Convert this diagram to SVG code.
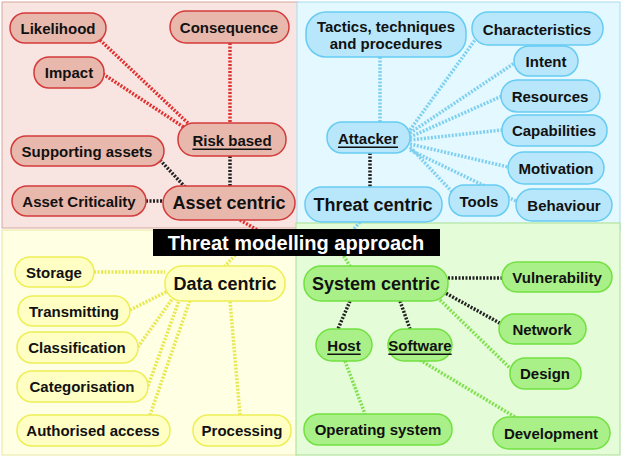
<svg xmlns="http://www.w3.org/2000/svg" width="624" height="459" viewBox="0 0 624 459">
<style>
text{font-family:"Liberation Sans",Arial,sans-serif;font-weight:bold;font-size:15px;text-anchor:middle;dominant-baseline:central;fill:#111}
.big{font-size:18px}
.r{fill:#e8b8ac;stroke:#d43a3a;stroke-width:1.5}
.b{fill:#b8e6fa;stroke:#66ccf2;stroke-width:1.5}
.y{fill:#ffffc4;stroke:#eeee55;stroke-width:1.5}
.g{fill:#aaf088;stroke:#72e040;stroke-width:1.5}
.c path{fill:none;stroke-width:3.5;stroke-dasharray:2 1.5}
.cr{stroke:#e03030}.cb{stroke:#7fd0f0}.cy{stroke:#e8e850}.cg{stroke:#80e050}.ck{stroke:#222}
</style>
<rect x="2" y="2" width="296" height="226" fill="#f8e4e0" stroke="#d8a8a0"/>
<rect x="297" y="2" width="323" height="228" fill="#e4f8ff" stroke="#a8dcf0"/>
<rect x="2" y="230" width="296" height="225" fill="#ffffe4" stroke="#e8e8a0"/>
<rect x="296" y="223" width="324" height="232" fill="#e4fcd8" stroke="#a8e090"/>
<g class="c">
<path class="cr" d="M100 40L190 125M100 72L185 128M230 43V123M240 220L268 236"/>
<path class="ck" d="M230 156V186M160 160L185 187M146 201H163M370 153V187M448 278H502M440 290L505 326M350 301L338 329M400 301L410 329"/>
<path class="cb" d="M380 57V122M410 130L475 40M410 133L516 62M410 137L502 96M410 140L502 130M410 144L508 167M410 147L455 195M410 150L518 202M360 222L348 236"/>
<path class="cy" d="M94 272H165M130 310L170 290M138 347L175 295M148 386L180 298M150 415L190 300M240 415L230 301M240 250L225 266"/>
<path class="cg" d="M440 300L512 370M420 360L520 420M345 361L365 414M340 250L350 266"/>
</g>
<g id="likelihood"><rect class="r" x="10" y="13" width="96" height="30" rx="15"/><text x="58" y="28">Likelihood</text></g>
<g id="consequence"><rect class="r" x="170" y="11" width="119" height="32" rx="16"/><text x="229" y="27">Consequence</text></g>
<g id="impact"><rect class="r" x="34" y="57" width="70" height="31" rx="15"/><text x="69" y="72">Impact</text></g>
<g id="risk"><rect class="r" x="178" y="123" width="108" height="33" rx="16"/><text x="232" y="140" text-decoration="underline">Risk based</text></g>
<g id="supporting"><rect class="r" x="11" y="136" width="153" height="30" rx="15"/><text x="87" y="151">Supporting assets</text></g>
<g id="criticality"><rect class="r" x="12" y="186" width="134" height="30" rx="15"/><text x="79" y="201">Asset Criticality</text></g>
<g id="asset"><rect class="r" x="163" y="186" width="132" height="34" rx="17"/><text class="big" x="229" y="203">Asset centric</text></g>
<g id="threat"><rect class="b" x="305" y="187" width="137" height="35" rx="17"/><text class="big" x="373" y="205">Threat centric</text></g>
<g id="ttp"><rect class="b" x="306" y="12" width="160" height="45" rx="20"/><text x="386" y="26">Tactics, techniques</text><text x="386" y="43">and procedures</text></g>
<g id="characteristics"><rect class="b" x="472" y="12" width="131" height="33" rx="16"/><text x="537" y="29">Characteristics</text></g>
<g id="intent"><rect class="b" x="514" y="46" width="64" height="30" rx="15"/><text x="546" y="61">Intent</text></g>
<g id="resources"><rect class="b" x="501" y="80" width="99" height="32" rx="16"/><text x="550" y="96">Resources</text></g>
<g id="attacker"><rect class="b" x="327" y="122" width="83" height="31" rx="15"/><text x="368" y="138" text-decoration="underline">Attacker</text></g>
<g id="capabilities"><rect class="b" x="502" y="115" width="105" height="31" rx="15"/><text x="554" y="130">Capabilities</text></g>
<g id="motivation"><rect class="b" x="508" y="152" width="96" height="32" rx="16"/><text x="556" y="168">Motivation</text></g>
<g id="tools"><rect class="b" x="449" y="185" width="60" height="31" rx="15"/><text x="479" y="201">Tools</text></g>
<g id="behaviour"><rect class="b" x="516" y="189" width="96" height="32" rx="16"/><text x="564" y="205">Behaviour</text></g>
<g id="title"><rect x="153" y="229" width="287" height="27" fill="#000"/><text x="296" y="243" style="fill:#fff;font-size:20px">Threat modelling approach</text></g>
<g id="data"><rect class="y" x="165" y="266" width="120" height="35" rx="17"/><text class="big" x="225" y="284">Data centric</text></g>
<g id="storage"><rect class="y" x="15" y="257" width="79" height="30" rx="15"/><text x="54" y="272">Storage</text></g>
<g id="transmitting"><rect class="y" x="18" y="296" width="112" height="30" rx="15"/><text x="74" y="311">Transmitting</text></g>
<g id="classification"><rect class="y" x="17" y="332" width="121" height="31" rx="15"/><text x="77" y="347">Classification</text></g>
<g id="categorisation"><rect class="y" x="17" y="371" width="131" height="31" rx="15"/><text x="82" y="386">Categorisation</text></g>
<g id="authorised"><rect class="y" x="17" y="415" width="153" height="31" rx="15"/><text x="93" y="430">Authorised access</text></g>
<g id="processing"><rect class="y" x="193" y="415" width="98" height="31" rx="15"/><text x="242" y="430">Processing</text></g>
<g id="system"><rect class="g" x="304" y="266" width="144" height="35" rx="17"/><text class="big" x="376" y="284">System centric</text></g>
<g id="vulnerability"><rect class="g" x="502" y="262" width="110" height="30" rx="15"/><text x="557" y="277">Vulnerability</text></g>
<g id="network"><rect class="g" x="499" y="314" width="87" height="30" rx="15"/><text x="542" y="329">Network</text></g>
<g id="host"><rect class="g" x="316" y="329" width="56" height="32" rx="16"/><text x="344" y="345" text-decoration="underline">Host</text></g>
<g id="software"><rect class="g" x="388" y="329" width="64" height="32" rx="16"/><text x="420" y="345" text-decoration="underline">Software</text></g>
<g id="design"><rect class="g" x="510" y="358" width="71" height="31" rx="15"/><text x="545" y="373">Design</text></g>
<g id="os"><rect class="g" x="304" y="414" width="148" height="31" rx="15"/><text x="378" y="429">Operating system</text></g>
<g id="development"><rect class="g" x="493" y="417" width="117" height="32" rx="16"/><text x="551" y="433">Development</text></g>
</svg>
